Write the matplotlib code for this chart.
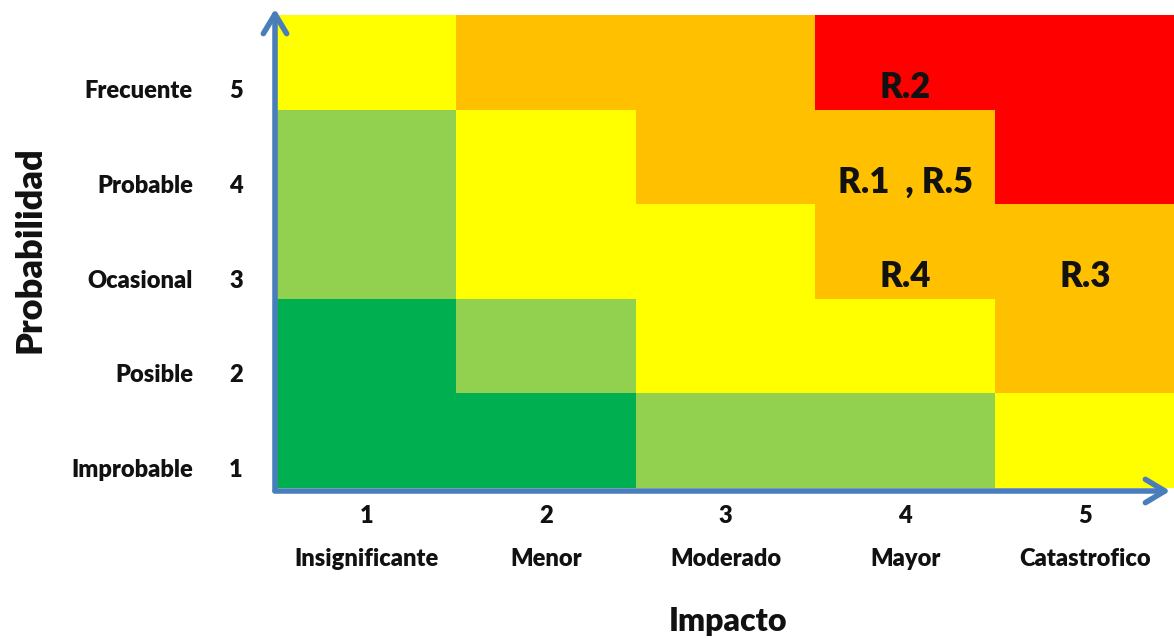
import matplotlib
matplotlib.use("Agg")
import matplotlib.pyplot as plt
from matplotlib.colors import ListedColormap
from matplotlib.patches import FancyArrowPatch
from matplotlib import transforms
import numpy as np

# Risk matrix data
impact_levels = [1, 2, 3, 4, 5]
impact_names = ["Insignificante", "Menor", "Moderado", "Mayor", "Catastrofico"]
prob_levels = [1, 2, 3, 4, 5]
prob_names = ["Improbable", "Posible", "Ocasional", "Probable", "Frecuente"]

# Zone per cell (rows = probability 1..5, cols = impact 1..5)
# 0 = low (green), 1 = moderate-low (light green), 2 = moderate (yellow),
# 3 = high (orange), 4 = extreme (red)
zone_p1 = [0, 0, 1, 1, 2]
zone_p2 = [0, 1, 2, 2, 3]
zone_p3 = [1, 2, 2, 3, 3]
zone_p4 = [1, 2, 3, 3, 4]
zone_p5 = [2, 3, 3, 4, 4]
zone_colors = ["#00B050", "#92D050", "#FFFF00", "#FFC000", "#FF0000"]

# Identified risks: (impact, probability, label)
risk_impact = [4, 4, 4, 5]
risk_prob = [5, 4, 3, 3]
risk_labels = ["R.2", "R.1  , R.5", "R.4", "R.3"]

FONT = "Lato"
WEIGHT = "heavy"
INK = "#111111"
W, H = 1174, 638
fig = plt.figure(figsize=(W / 100, H / 100), dpi=100)

x0, x1 = 277, 1174.5
ytop, ybot = 15, 488
ax = fig.add_axes([x0 / W, 1 - ybot / H, (x1 - x0) / W, (ybot - ytop) / H])

grid = np.array([zone_p1, zone_p2, zone_p3, zone_p4, zone_p5])
edges_x = np.arange(0.5, len(impact_levels) + 1, 1)
edges_y = np.arange(0.5, len(prob_levels) + 1, 1)
ax.pcolormesh(edges_x, edges_y, grid, cmap=ListedColormap(zone_colors),
              vmin=-0.5, vmax=4.5, shading="flat")
ax.set_xlim(0.5, 5.5)
ax.set_ylim(0.5, 5.5)
ax.set_xticks([])
ax.set_yticks([])
for s in ax.spines.values():
    s.set_visible(False)

# Row labels sit a little below the centre of each row
drop_cell = transforms.ScaledTranslation(0, -25 / 100, fig.dpi_scale_trans)
drop_label = transforms.ScaledTranslation(0, -29 / 100, fig.dpi_scale_trans)

for xi, yi, lab in zip(risk_impact, risk_prob, risk_labels):
    ax.text(xi, yi, lab, ha="center", va="center", fontsize=25,
            fontweight=WEIGHT, family=FONT, color=INK,
            transform=ax.transData + drop_cell)

ytr = transforms.blended_transform_factory(fig.transFigure, ax.transData) + drop_label
for p, name in zip(prob_levels, prob_names):
    fig.text(236 / W, p, str(p), transform=ytr, ha="center", va="center",
             fontsize=17, fontweight=WEIGHT, family=FONT, color=INK)
    fig.text(193 / W, p, name, transform=ytr, ha="right", va="center",
             fontsize=17, fontweight=WEIGHT, family=FONT, color=INK)

xtr = transforms.blended_transform_factory(ax.transData, fig.transFigure)
for i, name in zip(impact_levels, impact_names):
    fig.text(i, 1 - 516 / H, str(i), transform=xtr, ha="center", va="center",
             fontsize=17, fontweight=WEIGHT, family=FONT, color=INK)
    fig.text(i, 1 - 559 / H, name, transform=xtr, ha="center", va="center",
             fontsize=17, fontweight=WEIGHT, family=FONT, color=INK)

fig.text(728 / W, 1 - 622 / H, "Impacto", ha="center", va="center",
         fontsize=23, fontweight=WEIGHT, family=FONT, color=INK)
fig.text(30 / W, 1 - 250 / H, "Probabilidad", ha="center", va="center",
         rotation=90, fontsize=26, fontweight=WEIGHT, family=FONT, color=INK)

# Axis arrows
blue = "#4A7EBB"
style = "->,head_length=1.0,head_width=0.6"
arrow_v = FancyArrowPatch((275 / W, 1 - 492 / H), (275 / W, 1 - 6 / H),
                          transform=fig.transFigure, arrowstyle=style,
                          color=blue, lw=4, mutation_scale=14,
                          capstyle="round", joinstyle="round")
arrow_h = FancyArrowPatch((272 / W, 1 - 491 / H), (1173 / W, 1 - 491 / H),
                          transform=fig.transFigure, arrowstyle=style,
                          color=blue, lw=4, mutation_scale=14,
                          capstyle="round", joinstyle="round")
fig.patches.extend([arrow_v, arrow_h])

fig.savefig("out.png", dpi=100)
